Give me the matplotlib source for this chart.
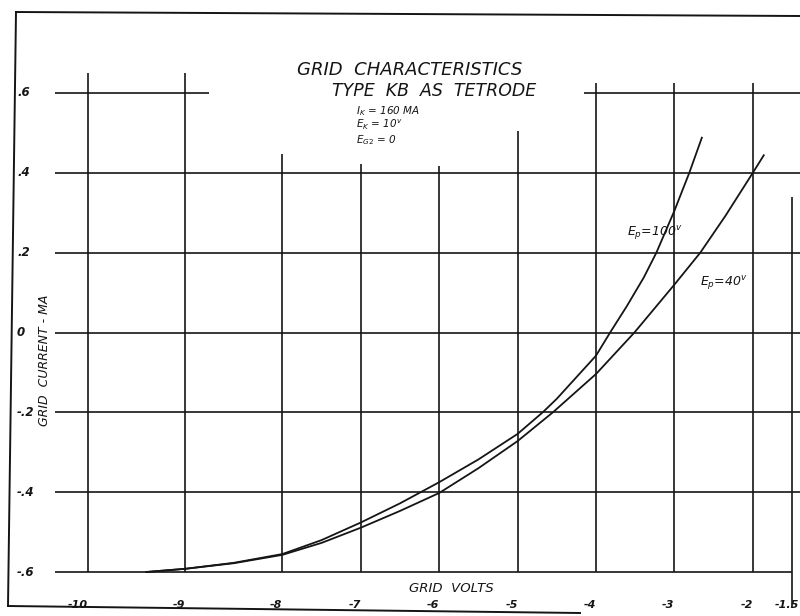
import numpy as np
import matplotlib
matplotlib.use("Agg")
import matplotlib.pyplot as plt
from matplotlib.lines import Line2D
import matplotlib.transforms as mtransforms

# --- data ---
ep100_volts = [-9.4, -9.0, -8.5, -8.0, -7.5, -7.0, -6.5, -6.0, -5.5, -5.0,
               -4.68, -4.5, -4.0, -3.82, -3.61, -3.39, -3.23, -3.0, -2.81, -2.65]
ep100_ma = [-0.6, -0.592, -0.577, -0.555, -0.52, -0.476, -0.428, -0.375, -0.318, -0.254,
            -0.2, -0.166, -0.058, 0.0, 0.065, 0.138, 0.2, 0.305, 0.4, 0.488]

ep40_volts = [-9.4, -9.0, -8.5, -8.0, -7.5, -7.0, -6.5, -6.0, -5.5, -5.0,
              -4.55, -4.0, -3.51, -3.0, -2.67, -2.35, -2.0, -1.86]
ep40_ma = [-0.6, -0.592, -0.578, -0.557, -0.527, -0.489, -0.447, -0.402, -0.34, -0.272,
           -0.2, -0.104, 0.0, 0.12, 0.2, 0.292, 0.4, 0.444]

x_ticks = [-10, -9, -8, -7, -6, -5, -4, -3, -2, -1.5]
x_ticklabels = ["-10", "-9", "-8", "-7", "-6", "-5", "-4", "-3", "-2", "-1.5"]
y_ticks = [0.6, 0.4, 0.2, 0.0, -0.2, -0.4, -0.6]
y_ticklabels = [".6", ".4", ".2", "0", "-.2", "-.4", "-.6"]

INK = "#151515"
W, H = 800, 616


# the paper scale is wider between -10 and -8 than on the rest
K = 1.24
def fwd(x):
    x = np.asarray(x, dtype=float)
    return np.where(x < -8, (x + 8) * K, x + 8)

def inv(y):
    y = np.asarray(y, dtype=float)
    return np.where(y < 0, y / K - 8, y - 8)


fig = plt.figure(figsize=(8, 6.16), dpi=100)
fig.patch.set_facecolor("white")
ax = fig.add_axes([88 / W, 44 / H, 704 / W, 479 / H])
ax.set_xscale("function", functions=(fwd, inv))
ax.set_xlim(-10, -1.5)
ax.set_ylim(-0.6, 0.6)
ax.axis("off")

# grid, drawn in pieces like the paper
vtops = [0.65, 0.65, 0.446, 0.421, 0.416, 0.504, 0.625, 0.625, 0.625]
for xv, top in zip(x_ticks[:-1], vtops):
    ax.vlines(xv, -0.6, top, color=INK, lw=1.2, clip_on=False)
ax.vlines(-1.5, -0.69, 0.34, color=INK, lw=1.2, clip_on=False)

ax.hlines(0.6, -10.34, -8.76, color=INK, lw=1.2, clip_on=False)
ax.hlines(0.6, -4.15, -1.3, color=INK, lw=1.2, clip_on=False)
for yv in y_ticks[1:-1]:
    ax.hlines(yv, -10.34, -1.3, color=INK, lw=1.2, clip_on=False)
ax.hlines(-0.6, -10.34, -1.5, color=INK, lw=1.2, clip_on=False)

# curves
ax.plot(ep100_volts, ep100_ma, color=INK, lw=1.3, clip_on=False, solid_joinstyle="round")
ax.plot(ep40_volts, ep40_ma, color=INK, lw=1.3, clip_on=False, solid_joinstyle="round")

txt = dict(color=INK, family="DejaVu Sans", style="italic")

# tick labels
ytr = mtransforms.blended_transform_factory(fig.transFigure, ax.transData)
for yv, lab in zip(y_ticks, y_ticklabels):
    ax.text(17 / W, yv, lab, transform=ytr, ha="left", va="center",
            fontsize=8.5, weight="bold", **txt)
xtr = mtransforms.blended_transform_factory(ax.transData, fig.transFigure)
for xv, lab in zip(x_ticks, x_ticklabels):
    tr = xtr
    if xv == x_ticks[-1]:
        tr = xtr + mtransforms.ScaledTranslation(0.07, 0, fig.dpi_scale_trans)
    ax.text(xv, 1 - 605 / H, lab, transform=tr, ha="right", va="center",
            fontsize=8, weight="bold", **txt)

# axis titles
fig.text(451 / W, 1 - 588 / H, "GRID  VOLTS", ha="center", va="center", fontsize=9.5, **txt)
fig.text(45 / W, 1 - 360 / H, "GRID  CURRENT - MA", ha="center", va="center",
         rotation=90, fontsize=9, **txt)

# heading
fig.text(410 / W, 1 - 70 / H, "GRID  CHARACTERISTICS", ha="center", va="center",
         fontsize=13, **txt)
fig.text(434 / W, 1 - 91 / H, "TYPE  KB  AS  TETRODE", ha="center", va="center",
         fontsize=12.5, **txt)
fig.text(356 / W, 1 - 111 / H, r"$I_K$ = 160 MA", ha="left", va="center", fontsize=7.5, **txt)
fig.text(356 / W, 1 - 125 / H, r"$E_K$ = 10$^v$", ha="left", va="center", fontsize=7.5, **txt)
fig.text(356 / W, 1 - 140 / H, r"$E_{G2}$ = 0", ha="left", va="center", fontsize=7.5, **txt)

# curve labels
fig.text(627 / W, 1 - 233 / H, r"$E_p$=100$^v$", ha="left", va="center", fontsize=9, **txt)
fig.text(700 / W, 1 - 283 / H, r"$E_p$=40$^v$", ha="left", va="center", fontsize=9, **txt)

# sheet frame
def px_line(xs, ys):
    fig.add_artist(Line2D([x / W for x in xs], [1 - y / H for y in ys],
                          transform=fig.transFigure, color=INK, lw=1.4))

px_line([16, 800], [12, 16])
px_line([16, 8], [12, 606])
px_line([8, 580], [606, 613])

fig.savefig("out.png", dpi=100)
